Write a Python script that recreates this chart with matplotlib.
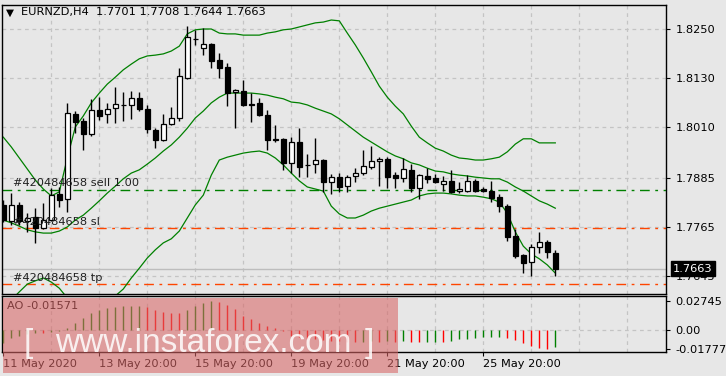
import numpy as np
import matplotlib
matplotlib.use("Agg")
import matplotlib.pyplot as plt
from matplotlib.patches import Rectangle

# ---------------- data ----------------
symbol_title = "EURNZD,H4  1.7701 1.7708 1.7644 1.7663"

opens = [1.7819, 1.7780, 1.7819, 1.7780, 1.7789, 1.7762, 1.7782, 1.7846, 1.7834, 1.8042,
         1.8025, 1.7993, 1.8052, 1.8042, 1.8056, 1.8064, 1.8064, 1.8081, 1.8054, 1.8003,
         1.7978, 1.8017, 1.8032, 1.8130, 1.8226, 1.8203, 1.8213, 1.8174, 1.8157, 1.8096,
         1.8098, 1.8067, 1.8069, 1.8039, 1.7980, 1.7980, 1.7922, 1.7973, 1.7917, 1.7919,
         1.7929, 1.7875, 1.7887, 1.7865, 1.7890, 1.7897, 1.7912, 1.7927, 1.7932, 1.7892,
         1.7885, 1.7905, 1.7860, 1.7890, 1.7885, 1.7870, 1.7878, 1.7853, 1.7853, 1.7878,
         1.7858, 1.7853, 1.7838, 1.7816, 1.7743, 1.7696, 1.7679, 1.7716, 1.7728, 1.7701]
highs = [1.7831, 1.7848, 1.7826, 1.7799, 1.7811, 1.7824, 1.7860, 1.7863, 1.8069, 1.8049,
         1.8032, 1.8079, 1.8083, 1.8069, 1.8108, 1.8096, 1.8098, 1.8096, 1.8064, 1.8007,
         1.8042, 1.8059, 1.8154, 1.8257, 1.8248, 1.8252, 1.8216, 1.8191, 1.8167, 1.8103,
         1.8125, 1.8093, 1.8081, 1.8052, 1.8015, 1.7983, 1.7985, 1.8007, 1.7944, 1.7983,
         1.7932, 1.7895, 1.7897, 1.7892, 1.7909, 1.7954, 1.7963, 1.7936, 1.7936, 1.7900,
         1.7934, 1.7919, 1.7895, 1.7909, 1.7895, 1.7890, 1.7905, 1.7875, 1.7892, 1.7882,
         1.7863, 1.7878, 1.7846, 1.7821, 1.7760, 1.7699, 1.7723, 1.7753, 1.7733, 1.7708]
lows = [1.7777, 1.7770, 1.7770, 1.7753, 1.7726, 1.7760, 1.7780, 1.7814, 1.7802, 1.7995,
        1.7954, 1.7988, 1.8027, 1.8020, 1.8020, 1.8025, 1.8030, 1.8049, 1.7995, 1.7958,
        1.7976, 1.8015, 1.8025, 1.8128, 1.8211, 1.8186, 1.8154, 1.8130, 1.8061, 1.8007,
        1.8061, 1.8022, 1.8037, 1.7954, 1.7973, 1.7905, 1.7897, 1.7887, 1.7887, 1.7897,
        1.7850, 1.7846, 1.7850, 1.7850, 1.7875, 1.7892, 1.7907, 1.7865, 1.7860, 1.7860,
        1.7875, 1.7850, 1.7834, 1.7873, 1.7873, 1.7853, 1.7849, 1.7848, 1.7850, 1.7850,
        1.7850, 1.7826, 1.7802, 1.7731, 1.7689, 1.7652, 1.7645, 1.7701, 1.7689, 1.7644]
closes = [1.7782, 1.7819, 1.7780, 1.7787, 1.7762, 1.7782, 1.7843, 1.7831, 1.8044, 1.8022,
          1.7993, 1.8052, 1.8037, 1.8054, 1.8066, 1.8065, 1.8081, 1.8054, 1.8005, 1.7978,
          1.8017, 1.8032, 1.8135, 1.8230, 1.8225, 1.8213, 1.8172, 1.8154, 1.8093, 1.8101,
          1.8064, 1.8065, 1.8039, 1.7978, 1.7978, 1.7922, 1.7973, 1.7912, 1.7916, 1.7929,
          1.7875, 1.7887, 1.7863, 1.7887, 1.7897, 1.7914, 1.7927, 1.7932, 1.7887, 1.7885,
          1.7907, 1.7860, 1.7892, 1.7882, 1.7875, 1.7878, 1.7850, 1.7858, 1.7878, 1.7853,
          1.7853, 1.7836, 1.7816, 1.7740, 1.7694, 1.7677, 1.7716, 1.7728, 1.7704, 1.7663]

bb_upper = [1.7985, 1.7961, 1.7934, 1.7907, 1.7880, 1.7858, 1.7841, 1.7851, 1.7934, 1.8010,
            1.8037, 1.8069, 1.8093, 1.8115, 1.8132, 1.8150, 1.8164, 1.8177, 1.8184, 1.8186,
            1.8189, 1.8196, 1.8208, 1.8238, 1.8248, 1.8250, 1.8250, 1.8240, 1.8238, 1.8238,
            1.8235, 1.8235, 1.8235, 1.8240, 1.8243, 1.8248, 1.8250, 1.8255, 1.8260, 1.8265,
            1.8267, 1.8272, 1.8270, 1.8240, 1.8211, 1.8179, 1.8145, 1.8110, 1.8083, 1.8061,
            1.8042, 1.8012, 1.7985, 1.7971, 1.7958, 1.7951, 1.7941, 1.7934, 1.7932, 1.7929,
            1.7929, 1.7932, 1.7936, 1.7949, 1.7968, 1.7981, 1.7981, 1.7971, 1.7971, 1.7971]
bb_middle = [1.7782, 1.7775, 1.7767, 1.7758, 1.7753, 1.7750, 1.7750, 1.7755, 1.7765, 1.7782,
             1.7794, 1.7811, 1.7829, 1.7848, 1.7865, 1.7883, 1.7897, 1.7905, 1.7919, 1.7934,
             1.7951, 1.7966, 1.7985, 1.8007, 1.8032, 1.8049, 1.8069, 1.8083, 1.8093, 1.8093,
             1.8093, 1.8093, 1.8091, 1.8088, 1.8083, 1.8079, 1.8071, 1.8069, 1.8064, 1.8056,
             1.8049, 1.8042, 1.8030, 1.8015, 1.8000, 1.7985, 1.7973, 1.7961, 1.7949, 1.7939,
             1.7932, 1.7922, 1.7917, 1.7909, 1.7902, 1.7900, 1.7895, 1.7892, 1.7890, 1.7887,
             1.7885, 1.7883, 1.7883, 1.7875, 1.7863, 1.7853, 1.7841, 1.7829, 1.7821, 1.7811]
bb_lower = [1.7576, 1.7586, 1.7606, 1.7625, 1.7633, 1.7640, 1.7630, 1.7615, 1.7591, 1.7557,
            1.7552, 1.7557, 1.7566, 1.7581, 1.7596, 1.7613, 1.7640, 1.7664, 1.7689, 1.7709,
            1.7726, 1.7736, 1.7755, 1.7787, 1.7819, 1.7843, 1.7892, 1.7929, 1.7936, 1.7941,
            1.7946, 1.7949, 1.7951, 1.7946, 1.7934, 1.7917, 1.7897, 1.7878, 1.7863, 1.7858,
            1.7853, 1.7816, 1.7797, 1.7787, 1.7787, 1.7794, 1.7804, 1.7811, 1.7816, 1.7821,
            1.7826, 1.7831, 1.7841, 1.7846, 1.7848, 1.7848, 1.7846, 1.7843, 1.7841, 1.7841,
            1.7838, 1.7834, 1.7826, 1.7799, 1.7753, 1.7718, 1.7699, 1.7687, 1.7672, 1.7652]

ao_values = [-0.0120, -0.0075, -0.0054, -0.0040, -0.0030, -0.0032, -0.0016, -0.0006, 0.0021, 0.0066,
             0.0111, 0.0157, 0.0190, 0.0211, 0.0220, 0.0226, 0.0229, 0.0232, 0.0217, 0.0187,
             0.0175, 0.0166, 0.0163, 0.0187, 0.0226, 0.0253, 0.02745, 0.0270, 0.0235, 0.0196,
             0.0135, 0.0105, 0.0069, 0.0036, 0.0015, -0.0010, -0.0060, -0.0069, -0.0081, -0.0090,
             -0.0093, -0.0105, -0.0108, -0.0114, -0.0117, -0.0112, -0.0108, -0.0110, -0.0105, -0.0110,
             -0.0108, -0.0112, -0.0116, -0.0113, -0.0111, -0.0114, -0.0105, -0.0090, -0.0081, -0.0075,
             -0.0069, -0.0068, -0.0066, -0.0075, -0.0096, -0.0120, -0.0150, -0.0170, -0.01777, -0.01571]

price_ticks = [1.8250, 1.8130, 1.8010, 1.7885, 1.7765, 1.7645]
ao_ticks = [0.02745, 0.0, -0.01777]
ao_tick_labels = ["0.02745", "0.00", "-0.01777"]
date_tick_bars = [0, 12, 24, 36, 48, 60]
date_labels = ["11 May 2020", "13 May 20:00", "15 May 20:00", "19 May 20:00", "21 May 20:00", "25 May 20:00"]

order_id = "#420484658"
sell_price = 1.78556
sl_price = 1.77618
tp_price = 1.76247

# ---------------- style ----------------
BG = "#e7e7e7"
GRID = "#c4c4c4"
BB_GREEN = "#008000"
ORDER_RED = "#ff4500"
W, H = 726, 376

plt.rcParams["font.family"] = ["DejaVu Sans"]
fig = plt.figure(figsize=(W / 100, H / 100), dpi=100, facecolor=BG)

def fx(px):
    return px / W

def fy(py):
    return 1 - py / H

main_left, main_right = 2, 666
ax = fig.add_axes([fx(main_left), fy(293.5), fx(main_right - main_left), (293.5 - 5) / H])
ao = fig.add_axes([fx(main_left), fy(352), fx(main_right - main_left), (352 - 296) / H])

n = len(closes)
x = np.arange(n)
o = np.array(opens); c = np.array(closes); hi = np.array(highs); lo = np.array(lows)

# pixel 3.3 -> bar 0, 8 px per bar
xmin = (main_left - 3.3) / 8.0
xmax = (main_right - 3.3) / 8.0

for a in (ax, ao):
    a.set_facecolor(BG)
    a.set_xlim(xmin, xmax)
    for s in a.spines.values():
        s.set_color("black")
        s.set_linewidth(1.0)
    for k in range(6, 84, 6):
        a.axvline(k, color=GRID, lw=0.9, ls=(0, (3, 3)), zorder=0.5)

# ---- main panel ----
ax.set_ylim(1.76020, 1.83088)
for p in price_ticks:
    ax.axhline(p, color=GRID, lw=0.9, ls=(0, (3, 3)), zorder=0.5)
ax.yaxis.tick_right()
ax.set_yticks(price_ticks)
ax.set_yticklabels([f"{p:.4f}" for p in price_ticks])
ax.tick_params(axis="y", length=3, width=0.8, pad=4, labelsize=8.2, colors="black")
ax.set_xticks([])

# bid line
ax.axhline(c[-1], color="#bdbdbd", lw=1.0, zorder=1)

# order lines
ax.axhline(sell_price, color=BB_GREEN, lw=1.0, ls=(0, (7, 4, 2, 4)), zorder=1)
ax.axhline(sl_price, color=ORDER_RED, lw=1.0, ls=(0, (7, 4, 2, 4)), zorder=1)
ax.axhline(tp_price, color=ORDER_RED, lw=1.0, ls=(0, (7, 4, 2, 4)), zorder=1)
for lvl, txt in [(sell_price, f"{order_id} sell 1.00"), (sl_price, f"{order_id} sl"), (tp_price, f"{order_id} tp")]:
    ax.annotate(txt, xy=(0, lvl), xycoords=("axes fraction", "data"), xytext=(8, 1.2),
                textcoords="offset points", ha="left", va="bottom", fontsize=8.2,
                color="#202020", zorder=6)

# Bollinger bands
for band in (bb_upper, bb_middle, bb_lower):
    ax.plot(x, band, color=BB_GREEN, lw=0.9, zorder=2)

# candles
up = c >= o
ax.vlines(x, lo, hi, color="black", lw=1.0, zorder=3)
body_h = np.maximum(np.abs(c - o), 0.00006)
ax.bar(x, body_h, bottom=np.minimum(o, c), width=0.62,
       color=np.where(up, "white", "black"), edgecolor="black", linewidth=0.9, zorder=4)

# price box
ax.annotate(f"{c[-1]:.4f}", xy=(1, c[-1]), xycoords=("axes fraction", "data"),
            xytext=(5, 0), textcoords="offset points", ha="left", va="center",
            fontsize=8.2, color="white", zorder=10, annotation_clip=False,
            bbox=dict(boxstyle="square,pad=0.2", fc="black", ec="black"))

# title
fig.text(fx(6), fy(12.5), "\u25BC", fontsize=7.5, va="center", ha="left", color="black")
fig.text(fx(21), fy(12.5), symbol_title, fontsize=8.2, va="center", ha="left", color="black")

# ---- AO panel ----
ao.set_ylim(-0.0209, 0.0323)
ao.axhline(0, color=GRID, lw=0.9, ls=(0, (3, 3)), zorder=0.5)
ao_arr = np.array(ao_values)
ao_col = ["#008000"] + ["#008000" if ao_arr[i] > ao_arr[i - 1] else "#ff0000" for i in range(1, n)]
ao.vlines(x, 0, ao_arr, colors=ao_col, lw=1.0, zorder=3)
ao.yaxis.tick_right()
ao.set_yticks(ao_ticks)
ao.set_yticklabels(ao_tick_labels)
ao.tick_params(axis="y", length=3, width=0.8, pad=4, labelsize=8.2, colors="black")
ao.set_xticks(date_tick_bars)
ao.set_xticklabels(date_labels, ha="left")
ao.tick_params(axis="x", length=3, width=0.8, pad=2, labelsize=8.2, colors="black")
ao.text(0.008, 0.83, f"AO {ao_values[-1]:.5f}", transform=ao.transAxes, fontsize=8.2,
        va="center", ha="left", color="black")

# ---- watermark ----
fig.add_artist(Rectangle((fx(3), fy(373)), fx(395), 75 / H, transform=fig.transFigure,
                         facecolor="#d86666", alpha=0.58, edgecolor="none", zorder=20))
wm_kw = dict(fontsize=24, color="white", alpha=0.85, va="baseline", zorder=21,
             family=["Liberation Sans", "DejaVu Sans"])
fig.text(fx(24), fy(352), "[", ha="left", **wm_kw)
fig.text(fx(55), fy(352), "www.instaforex.com", ha="left", **wm_kw)
fig.text(fx(374), fy(352), "]", ha="right", **wm_kw)

fig.savefig("out.png", dpi=100, facecolor=BG)
